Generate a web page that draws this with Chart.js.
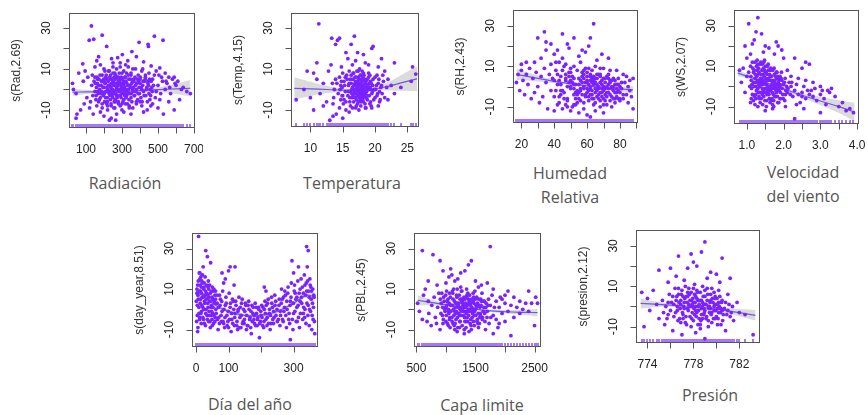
<!DOCTYPE html>
<html>
<head>
<meta charset="utf-8">
<script src="https://cdn.jsdelivr.net/npm/chart.js@4.4.1/dist/chart.umd.min.js"></script>
<style>
  body { margin: 0; background: #fff; }
  #wrap { position: relative; width: 868px; height: 415px; overflow: hidden; }
  canvas { position: absolute; }
  .ttl { position: absolute; transform: translate(-50%, -50%); font-family: "Open Sans", sans-serif;
         font-size: 16px; color: #555; text-align: center; line-height: 24px; white-space: nowrap; }
</style>
</head>
<body>
<div id="wrap">
  <div class="ttl" style="left:125px; top:183px">Radiación</div>
  <div class="ttl" style="left:352px; top:183px">Temperatura</div>
  <div class="ttl" style="left:570px; top:185px">Humedad<br>Relativa</div>
  <div class="ttl" style="left:803px; top:184px">Velocidad<br>del viento</div>
  <div class="ttl" style="left:250px; top:404px">Día del año</div>
  <div class="ttl" style="left:482px; top:405px">Capa limite</div>
  <div class="ttl" style="left:710px; top:395px">Presión</div>
</div>
<script>
// partial residuals, [x, y]; *Core = the dense middle of each cloud
const radPts = [[130,31],[118,24],[143,24.5],[190,26.5],[480,26],[528,24],[395,23],[445,22],[447,21],[215,21],[355,18.5],[302,17],[170,16],[242,15],[332,14],[276,15.5],[420,13.5],[82,12.5],[462,11.5],[510,10.5],[380,16],[250,13],[160,14],[290,13],[85,4],[60,8],[95,9],[45,-2],[30,0],[25,3],
  [110,6],[150,11],[180,12],[200,10],[225,9],[250,11],[265,7],[290,11],[310,9],[335,11],[350,8],[375,10],[390,7],[410,9],[430,6],[450,8],[470,5],[490,9],[505,7],[520,6],[540,8],[560,6],[580,5],[135,7],[165,5],[210,6],[235,5],[280,6],[320,6],[365,5],[400,5],[445,4],[190,7],[260,8],[300,8],[350,7],[430,7],[150,6],[230,9],[270,10],[320,12],[360,10],[415,10],[480,7],[525,4],[545,4],[595,3],
  [132,2],[138,-3],[145,4],[150,-1],[155,-5],[158,1],[163,3],[168,-2],[172,5],[176,0],[180,-4],[184,2],[188,-1],[192,4],[196,-3],[200,1],[203,-6],[207,3],[210,-1],[214,5],[218,-4],[221,0],[225,2],[228,-2],[232,6],[235,-5],[238,1],[241,3],[244,-3],[248,0],[251,4],[254,-1],[257,-6],[260,2],[263,5],[266,-2],[270,1],[273,-4],[276,3],[280,0],[283,-1],[286,4],[290,-3],[293,2],[296,6],[300,-2],[303,0],[307,3],[310,-5],[314,1],[318,-1],[322,4],[326,-3],[330,2],[334,0],[338,5],[342,-2],[346,1],[350,-4],[354,3],[358,0],[362,-1],[366,4],[370,-3],[375,2],[380,0],[385,5],[390,-2],[395,1],[400,3],[405,-4],[410,0],[415,2],[420,-1],[426,4],[432,-3],[438,1],[444,3],[450,-2],[456,0],[462,4],[468,-1],[475,2],
  [50,-12],[70,-10],[45,-14],[90,-7],[120,-9],[140,-12],[160,-8],[180,-11],[200,-13],[220,-10],[240,-14],[255,-9],[270,-12],[290,-8],[310,-11],[330,-7],[360,-9],[380,-6],[410,-8],[440,-10],[470,-7],[500,-9],[530,-12],[560,-6],[590,-10],[620,-5],[320,-7],[240,-8],[280,-6],[215,-7],[380,-7],[170,-6],[105,-4],[125,-6],[230,-15],[265,-15],[350,-12],[420,-11],[455,-5],[485,-4],[515,-2],[190,-9],[300,-10],[340,-8],[400,-6],[460,-8],
  [600,2],[630,0],[660,-1],[680,-2],[550,3],[570,-2],[610,4],[640,1],[590,6],[500,2],[510,-5],[540,0],[565,1],[490,-1]];
const radCore = [[152,3],[156,-3],[161,6],[165,-1],[170,2],[174,-5],[178,7],[182,-2],[186,4],[190,-7],[194,1],[198,5],[202,-2],[205,3],[209,-4],[212,7],[216,1],[219,-6],[223,4],[226,-1],[230,2],[233,-3],[236,7],[239,-7],[242,0],[246,5],[249,-4],[252,2],[256,6],[259,-2],[262,-5],[265,3],[268,0],[271,6],[275,-3],[278,2],[281,-7],[284,5],[288,-1],[291,3],[295,-4],[298,1],[301,5],[305,-6],[308,2],[312,-2],[315,6],[319,0],[323,-4],[327,3],[331,-1],[335,7],[339,-5],[343,2],[347,5],[351,-2],[355,-6],[359,4],[363,1],[368,-3],[372,6],[377,-1],[382,3],[387,-5],[392,4],[397,-2],[402,6],[407,1],[412,-6],[417,4],[423,-3],[429,5],[435,0],[441,-6],[447,2],[453,5],[459,-3],[465,1],[220,-8],[260,-9],[300,-7],[340,-9],[250,8],[285,8],[325,8],[205,9],[270,-3],[245,3],[310,4],[290,0],[230,-1],[355,1],[200,4],[330,-2],[265,-6],[240,-2],[280,4],[315,-3]];

const tempPts = [[11.3,32],[13.3,25],[14.2,24],[14.5,25],[16.8,26],[16.3,22],[13.9,22],[19.5,20],[19.7,21],[15.5,18],[17.3,18],[18.2,17],[21,15],[23,13],[25.8,11],[26.3,7.5],[25.6,4],[7.8,-5],[9.5,9],[10,-4],[10.5,-10],[11,5],[12,-8],[13,-15],[13.5,-13],[14,-12],[15,-14],[16,-11],[22,-5],[22.5,2],[23,-2],[24,1],[9,0],[10.5,8],[11.5,-2],[12,3],[12.5,-6],[11,13],[12.8,9],[13.2,12],[15.8,15],[17,14],[18.5,13],[16.5,12],[20.5,11],[21.5,9],[14.8,11],[19,12],
  [14.1,3],[14.3,-2],[14.5,6],[14.7,-5],[14.9,1],[15.1,-7],[15.2,4],[15.4,-1],[15.6,7],[15.8,-3],[15.9,2],[16.1,-6],[16.2,5],[16.4,0],[16.5,-4],[16.7,8],[16.8,2],[16.9,-2],[17.0,4],[17.1,-8],[17.2,1],[17.3,-3],[17.4,6],[17.5,-1],[17.6,3],[17.7,-5],[17.8,0],[17.9,5],[18.0,-2],[18.1,2],[18.2,-6],[18.3,7],[18.4,-1],[18.5,3],[18.6,-4],[18.7,1],[18.8,5],[18.9,-3],[19.0,0],[19.2,-7],[19.3,4],[19.5,-2],[19.6,2],[19.8,-5],[20.0,6],[20.1,0],[20.3,-3],[20.5,3],[20.7,-6],[20.9,1],[21.1,-2],[21.3,4],[17.2,9],[17.6,10],[18.0,9],[16.0,9],[15.0,8],[19.0,8],[17.5,-10],[18.5,-9],[16.5,-9],[15.5,-10],[19.5,-9],[20.5,-8],[14.5,-9],[13.5,-7],[13.7,0],[13.9,5],[13.4,3],[13.6,-4],[21.5,-4],[21.8,1],[22.0,5],[21.2,7],[17.7,2],[17.3,0],[17.9,-2],[18.2,1],[16.8,-1],[17.1,3],[16.6,-3],[18.6,0],[17.4,-6],[18.1,-4],[16.3,3],[19.1,3],[17.8,7],[16.9,6],[17.6,-2],[18.3,-3],[16.2,-1],[19.4,0],[17.0,-4],[18.8,2]];
const tempCore = [[14.6,0],[14.8,4],[15.0,-3],[15.3,2],[15.5,-6],[15.7,5],[15.9,-1],[16.0,3],[16.1,-4],[16.3,7],[16.4,-2],[16.5,1],[16.6,5],[16.7,-6],[16.8,0],[16.9,3],[17.0,-2],[17.05,6],[17.1,-5],[17.15,2],[17.2,-1],[17.25,4],[17.3,-7],[17.35,1],[17.4,3],[17.45,-3],[17.5,5],[17.55,0],[17.6,-4],[17.65,2],[17.7,7],[17.75,-1],[17.8,3],[17.85,-6],[17.9,1],[17.95,-2],[18.0,4],[18.05,0],[18.1,-5],[18.15,6],[18.2,-1],[18.25,2],[18.3,-3],[18.35,5],[18.4,1],[18.45,-7],[18.5,-2],[18.6,4],[18.7,-1],[18.8,-5],[18.9,2],[19.0,6],[19.1,-3],[19.2,1],[19.3,-6],[19.4,3],[19.6,-1],[19.7,5],[19.9,0],[20.0,-4],[20.2,2],[20.4,-2],[20.6,5],[20.8,-5],[21.0,2],[16.2,-8],[17.0,-9],[17.8,-8],[18.6,-9],[19.4,-8],[16.6,8],[17.4,9],[18.2,8],[19.2,7],[15.4,6],[15.2,-5],[14.7,2],[14.9,-3],[20.3,7],[20.7,-1],[17.55,-3],[17.15,-1],[18.45,3],[16.75,2],[18.0,-3],[17.3,4]];

const rhPts = [[64,31],[30,24],[34,27],[45,26],[52,24],[62,24],[38,21],[42,18],[35,22],[57,18],[59,17],[48,21],[61,20],[69,16],[73,14],[49,19],[43,12],[23,12],[20,11],[40,16],[35,18],[55,15],[66,13],[32,14],[28,12],[45,14],
  [17,2],[18,6],[19,-2],[20,8],[21,3],[22,-4],[23,6],[24,1],[25,9],[26,-6],[27,4],[28,-3],[29,7],[30,0],[31,-8],[32,5],[33,-5],[34,9],[35,2],[36,-11],[37,6],[38,-2],
  [39,4],[40,-5],[41,8],[42,1],[43,-8],[44,5],[45,-2],[46,10],[47,3],[48,-6],[49,7],[50,0],[51,-10],[52,4],[53,-3],[54,8],[55,1],[56,-7],[57,5],[58,-1],[59,9],[60,2],[61,-5],[62,6],[63,-2],[64,3],[65,-8],[66,1],[67,-4],[68,5],[69,-1],[70,-6],[71,2],[72,-3],[73,4],[74,-7],[75,0],[76,-2],[77,3],[78,-5],[79,1],[80,-3],[81,-1],[82,-6],[83,2],[84,-4],[85,0],[86,-2],[87,-5],[88,-11],
  [44,-4],[47,6],[50,3],[53,-6],[55,-3],[57,2],[59,-4],[60,7],[62,-1],[63,4],[64,-6],[65,2],[66,-2],[67,6],[68,-7],[69,3],[70,0],[71,-4],[72,5],[73,-1],[74,2],[75,-5],[76,4],[77,-3],[78,1],[79,-6],[60,-3],[58,4],[56,-1],[54,-4],[52,1],[61,1],[63,-4],[65,-1],[67,0],[69,-3],[71,-1],[73,1],[62,3],[66,4],
  [40,-12],[45,-11],[50,-12],[55,-13],[60,-14],[62,-15],[65,-12],[70,-13],[75,-10],[80,-6],[85,-8],[48,-10],[58,-11],[68,-10],[72,-9],[77,-8],[52,-9],[42,-9],
  [38,11],[41,12],[47,11],[52,10],[56,12],[61,9],[65,10],[70,9],[74,8],[78,8],[82,6],[84,5],[86,3],[88,4],[50,9],[58,8],[63,8],[68,9]];
const rhCore = [[40,3],[41,-2],[42,6],[43,-5],[44,1],[45,8],[46,-3],[47,4],[48,-7],[49,2],[50,-1],[51,5],[52,-4],[53,1],[54,-8],[55,4],[56,-2],[57,7],[58,0],[59,-5],[60,3],[61,-2],[62,5],[63,-6],[64,1],[65,-3],[66,6],[67,-1],[68,2],[69,-5],[70,4],[71,-7],[72,0],[73,-3],[74,3],[75,-1],[76,-6],[77,1],[78,-3],[79,4],[80,-7],[81,2],[82,-4],[43,3],[46,-6],[49,5],[52,-1],[55,-6],[58,6],[61,-7],[64,5],[67,-6],[70,-2],[73,6],[76,0],[79,-2],[48,0],[51,2],[54,-2],[57,-4],[60,-1],[63,2],[66,-5],[69,1],[72,-5],[75,3],[78,-1],[44,-2],[47,-9],[50,7],[53,-9],[56,3],[59,2],[62,-4],[65,4],[68,-3],[71,4],[74,-4],[77,-6],[80,0],[58,-8],[64,-9],[70,-9],[62,0],[66,-1],[68,6],[60,5]];

const wsPts = [[1.3,34],[1.05,31],[1.25,27],[1.4,26],[1.2,23],[1.8,22],[1.85,20],[1.5,20],[1.6,19],[1.95,18],[1.1,16],[1.75,16],[2.0,14],[2.3,14],[2.6,12],[2.7,11],[2.5,9],[0.95,20],[1.15,21],[1.45,17],[1.0,14],[0.9,9],[0.85,2],[0.8,8],[0.95,-3],[1.0,5],
  [1.1,10],[1.12,3],[1.15,-4],[1.18,7],[1.2,0],[1.22,12],[1.25,-6],[1.27,5],[1.3,-1],[1.32,9],[1.34,2],[1.36,-8],[1.38,6],[1.4,-3],[1.42,11],[1.44,1],[1.46,-5],[1.48,8],[1.5,-1],[1.52,4],[1.54,-7],[1.56,10],[1.58,0],[1.6,-4],[1.62,6],[1.64,-2],[1.66,3],[1.68,-6],[1.7,8],[1.72,-1],[1.74,2],[1.76,-5],[1.78,5],[1.8,-3],[1.82,1],[1.84,-8],[1.86,4],[1.88,-2],[1.9,0],[1.92,-6],[1.95,3],[1.98,-4],[2.0,1],[2.03,-7],[2.06,-2],[1.15,12],[1.2,8],[1.25,2],[1.3,6],[1.35,-3],[1.4,4],[1.45,9],[1.5,7],[1.55,-4],[1.6,3],[1.65,9],[1.7,-9],[1.75,0],[1.8,7],[1.85,-1],[1.9,5],[1.28,13],[1.38,12],[1.48,13],[1.58,11],[1.33,-5],[1.43,-9],[1.53,-10],[1.63,-8],[1.73,-10],[1.22,-9],[1.12,-6],[1.08,0],[1.05,7],[1.46,3],[1.36,1],[1.56,-2],[1.66,-1],[1.42,-1],[1.52,1],
  [2.1,-3],[2.15,2],[2.2,0],[2.25,-5],[2.3,-2],[2.35,1],[2.4,-4],[2.45,-8],[2.5,-3],[2.55,0],[2.6,-6],[2.65,-2],[2.7,-4],[2.8,-5],[2.85,-1],[2.9,-7],[3.0,-4],[3.05,-2],[3.1,-6],[3.2,-2],[3.3,-1],[3.15,-9],[3.5,-10],[3.8,-11],[3.9,-13],[3.7,-12],[2.5,-5],[2.75,-2],[3.0,-13],[2.3,-16],[1.5,-12],[1.7,-11],[1.3,-10],[1.1,-8],[2.2,5],[2.4,4],[2.6,3],[2.8,2],[3.0,0],[3.25,-3],[2.1,8],[2.05,-10],[2.35,-9],[2.55,-11],[3.6,-8],[3.4,-5]];
const wsCore = [[1.11,5],[1.13,-1],[1.16,9],[1.19,2],[1.21,-5],[1.23,6],[1.24,0],[1.26,10],[1.29,3],[1.31,-3],[1.33,7],[1.35,0],[1.37,4],[1.39,-6],[1.41,8],[1.43,2],[1.45,-2],[1.47,5],[1.49,-7],[1.51,10],[1.53,1],[1.55,6],[1.57,-3],[1.59,4],[1.61,-6],[1.63,8],[1.65,0],[1.67,5],[1.69,-3],[1.71,3],[1.73,-7],[1.75,6],[1.77,1],[1.79,-2],[1.81,4],[1.83,-5],[1.85,2],[1.87,-8],[1.89,1],[1.91,-3],[1.93,4],[1.96,-1],[1.99,-6],[2.02,2],[2.05,-4],[2.08,0],[1.14,1],[1.18,-7],[1.22,4],[1.26,-2],[1.3,11],[1.34,-6],[1.38,3],[1.42,-4],[1.46,12],[1.5,2],[1.54,-1],[1.58,8],[1.62,-1],[1.66,-7],[1.7,2],[1.74,9],[1.78,-5],[1.82,7],[1.86,-2],[1.9,-6],[1.94,7],[1.98,1],[2.04,4],[1.24,-4],[1.28,8],[1.32,1],[1.36,11],[1.4,1],[1.44,6],[1.48,-3],[1.52,7],[1.56,3],[1.6,0],[1.64,5],[1.68,1],[1.72,-4],[1.76,3],[1.8,-1],[1.84,5],[1.88,3],[2.12,-1],[2.18,-4],[2.22,2]];

const dayPts = [[8,36],[30,29],[35,26],[45,23],[22,21],[10,18],[15,16],[18,14],[25,13],[5,12],[12,15],[20,17],[28,16],[38,14],[42,12],[50,11],[55,10],[60,9],[3,8],[7,5],[14,9],[19,6],[24,10],[33,8],[40,6],[47,9],[52,5],[58,7],[4,2],[9,-2],[13,3],[17,-1],[21,1],[26,4],[31,0],[36,3],[41,-3],[46,1],[51,-2],[56,4],[61,0],[2,-6],[6,-9],[11,-4],[16,-7],[23,-5],[29,-8],[34,-3],[39,-6],[44,-9],[49,-5],[54,-7],[59,-4],[5,-11],[12,18],[16,11],[27,7],[37,11],[43,4],[48,-1],
  [65,3],[70,-4],[75,5],[80,-1],[85,-7],[90,2],[95,-3],[100,-9],[105,1],[110,-5],[115,4],[120,-2],[125,-8],[130,0],[135,-4],[140,3],[145,-6],[150,-1],[155,-10],[160,2],[165,-5],[170,-12],[175,-2],[180,-7],[185,1],[190,-4],[195,-14],[200,-3],[205,-8],[210,0],[215,-5],[220,3],[225,-2],[230,-7],[235,1],[240,-4],[245,4],[250,-6],[68,-10],[78,-6],[88,-9],[98,-6],[108,-11],[118,-8],[128,-10],[138,-9],[148,-7],[158,-8],[168,-9],[178,-5],[188,-8],[198,-6],[208,-9],[218,-8],[228,-10],[238,-7],[72,7],[82,9],[92,6],[102,8],[112,5],[122,4],[132,6],[142,5],[152,3],[162,4],[172,2],[182,3],[192,1],[202,2],[212,4],[222,5],[232,6],[242,7],[80,18],[100,19],[105,21],[120,21],[117,12],[90,15],[85,13],[210,11],[215,9],
  [255,2],[260,-3],[265,5],[270,-1],[275,7],[280,0],[285,-5],[290,4],[295,24],[300,-2],[305,8],[310,1],[315,-4],[320,10],[325,3],[330,-2],[335,12],[340,31],[342,21],[345,29],[348,6],[350,15],[352,-1],[355,9],[358,3],[360,-5],[362,7],[365,-12],[290,-15],[258,-8],[268,-6],[278,-9],[288,-7],[298,-10],[308,-6],[318,-9],[328,-5],[338,-7],[348,-8],[263,10],[273,9],[283,11],[293,13],[303,12],[313,14],[323,15],[333,17],[343,14],[353,11],[310,6],[320,4],[330,8],[340,9],[345,2],[335,0],[300,18],[315,21],[356,-10]];
const dayCore = [[1,4],[3,10],[4,-3],[6,7],[7,14],[9,1],[10,9],[11,-5],[13,12],[14,5],[15,-2],[17,8],[18,2],[19,13],[21,-4],[22,6],[24,0],[25,11],[26,-7],[27,3],[29,9],[30,-2],[32,5],[33,12],[35,-5],[36,7],[37,1],[39,10],[40,-1],[42,4],[43,-6],[44,8],[46,-3],[47,2],[49,6],[50,-8],[52,1],[53,9],[55,-3],[57,3],[58,-6],[60,5],[62,-2],[64,7],
  [66,-5],[69,1],[72,-7],[74,2],[77,-3],[79,4],[83,-6],[86,0],[89,-4],[93,3],[96,-8],[99,-1],[103,-5],[106,3],[109,-2],[113,-7],[116,0],[119,-4],[123,2],[126,-6],[129,-1],[133,-9],[136,1],[139,-3],[143,-7],[146,0],[149,-5],[153,2],[156,-3],[159,-8],[163,0],[166,-4],[169,-1],[173,-6],[176,1],[179,-3],[183,-8],[186,-2],[189,-5],[193,0],[196,-7],[199,-1],[203,-4],[206,1],[209,-6],[213,-2],[216,2],[219,-4],[223,-7],[226,0],[229,-3],[233,3],[236,-5],[239,-1],[243,2],[246,-3],[249,0],[253,-5],
  [256,5],[259,-1],[262,3],[266,-5],[269,6],[272,1],[276,-3],[279,4],[282,8],[286,-2],[289,2],[292,6],[296,-5],[299,3],[302,9],[304,-1],[307,5],[311,-6],[314,2],[317,8],[321,-2],[324,6],[327,11],[331,1],[334,-4],[337,7],[339,13],[341,3],[344,-3],[346,9],[349,0],[351,12],[354,5],[357,-3],[359,10],[361,1],[363,6],[364,-6]];

const pblPts = [[1750,31],[600,29],[780,27],[900,24],[1430,24],[1380,22],[1080,20],[1100,17],[1250,18],[1050,16],[1500,14],[1200,15],[1700,13],[2050,9],[2400,9],[950,19],[1320,19],[1150,14],[1000,13],[850,12],[700,14],[1600,12],[1550,11],[1800,10],
  [520,3],[550,-1],[600,-5],[650,10],[700,4],[750,-8],[710,-2],[800,6],[820,-4],[860,1],[880,8],[900,-10],[620,7],[680,-6],[760,2],[840,-7],
  [920,3],[940,-3],[960,6],[980,0],[1000,-6],[1020,4],[1040,-1],[1060,8],[1080,2],[1100,-4],[1120,5],[1140,-8],[1160,1],[1180,7],[1200,-2],[1220,3],[1240,-6],[1260,9],[1280,0],[1300,-3],[1320,5],[1340,-9],[1360,2],[1380,-1],[1400,7],[1420,-5],[1440,1],[1460,4],[1480,-3],[1500,0],[1520,6],[1540,-7],[1560,2],[1580,-2],[1600,4],[1620,-4],[1640,1],[1660,-6],[1680,3],[1700,-1],[950,-7],[1010,9],[1070,-9],[1130,10],[1190,-11],[1250,11],[1310,-12],[1370,8],[1430,-10],[1490,9],[1550,-9],[1610,8],[1670,-10],[1730,-7],[1000,1],[1050,-2],[1150,-1],[1210,1],[1270,4],[1330,-1],[1390,3],[1450,-2],[1510,2],[1570,-4],[1630,-1],[1110,2],[1170,-5],[1230,-3],[1290,2],[1350,6],[1410,-7],[1470,6],[1530,-5],[1590,5],[1650,4],[1060,-5],[1240,0],[1300,1],[1360,-4],[1420,3],[1120,-7],[1480,-8],[1200,-9],[1340,-6],[1380,5],
  [1750,2],[1800,-3],[1850,4],[1900,1],[1950,-2],[2000,3],[2050,-1],[2100,2],[2150,6],[2200,1],[2250,-2],[2300,0],[2350,3],[2450,3],[2550,3],[2500,-8],[2100,-13],[1800,-12],[1900,-7],[2000,-6],[1780,7],[1850,-5],[1950,5],[2000,7],[2150,-4],[2250,4],[2400,-1],[2520,6],[1720,5],[1760,-4],[1820,1],[1880,-9],[1920,6]];
const pblCore = [[905,5],[915,-2],[930,8],[945,1],[955,-5],[970,4],[985,-1],[995,7],[1005,-3],[1015,2],[1025,-7],[1035,5],[1045,0],[1055,3],[1065,-4],[1075,6],[1085,-1],[1095,2],[1105,-6],[1115,8],[1125,0],[1135,-3],[1145,4],[1155,-7],[1165,3],[1175,-1],[1185,6],[1195,-4],[1205,2],[1215,-2],[1225,7],[1235,-6],[1245,1],[1255,-3],[1265,5],[1275,-8],[1285,3],[1295,-1],[1305,6],[1315,-4],[1325,1],[1335,3],[1345,-2],[1355,7],[1365,-6],[1375,0],[1385,-3],[1395,4],[1405,-1],[1415,2],[1425,-8],[1435,5],[1445,-4],[1455,0],[1465,-6],[1475,3],[1485,-1],[1495,5],[1505,-3],[1515,1],[1525,-6],[1535,3],[1545,-2],[1555,5],[1565,-7],[1575,1],[1585,-3],[1595,2],[1615,-5],[1635,4],[1655,-2],[1675,1],[1695,-4],[1715,2],[1110,9],[1190,10],[1270,9],[1350,10],[1150,-10],[1230,-9],[1310,-10],[1390,-11],[1460,8],[1040,-8],[1190,3],[1260,-1],[1320,-6],[1400,0],[1280,4],[1160,-2],[1240,5],[1340,2],[1440,-1]];

const presPts = [[779,32],[777.8,26],[778.7,27],[776.7,25],[780.5,24],[778,22],[777.5,19],[778.3,20],[776,19],[775,18],[779.5,17],[780,16],[781.2,14],[773.5,7],[774,4],[773.7,-10],[775,-6],[775.5,-9],[774.8,1],[783.2,-14],[781.5,-7],[782,-3],[780.8,-12],[778.2,-13],[777,-14],[779,-16],[776.5,15],[777.2,13],[779.2,14],[780.3,12],[775.8,12],[774.5,8],[782.5,-4],[781.8,2],[781,6],[774.2,-2],[775.3,3],[775.8,-4],[776.2,-12],
  [776.5,3],[776.6,-2],[776.7,6],[776.8,-6],[776.9,1],[777.0,8],[777.1,-4],[777.2,2],[777.3,-8],[777.4,5],[777.5,-1],[777.6,9],[777.7,-5],[777.8,3],[777.9,0],[778.0,-7],[778.1,6],[778.2,-2],[778.3,4],[778.4,-9],[778.5,1],[778.6,7],[778.7,-4],[778.8,2],[778.9,-1],[779.0,5],[779.1,-6],[779.2,3],[779.3,0],[779.4,-3],[779.5,6],[779.6,-8],[779.7,2],[779.8,-2],[779.9,4],[780.0,-5],[780.1,1],[780.2,-3],[780.3,5],[780.4,-1],[780.6,-4],[780.8,2],[781.0,-2],[781.2,-5],[781.4,0],[776.3,-5],[776.1,2],[775.9,6],[775.6,0],[775.4,-3],[777.3,10],[778.1,11],[778.8,10],[779.6,9],[777.8,-10],[778.6,-11],[779.3,-10],[780.1,-9],[777.6,1],[778.2,0],[778.7,-1],[779.1,1],[778.4,3],[777.9,-3],[779.5,-1],[778.9,-4],[778.0,2],[779.8,0],[777.1,5],[780.5,3],[776.9,-8],[778.5,-6],[779.9,-6],[777.5,7],[779.0,8],[780.2,8],[776.4,9],[778.3,8]];
const presCore = [[776.3,1],[776.45,-3],[776.55,5],[776.65,-7],[776.75,2],[776.85,-1],[776.95,6],[777.05,-3],[777.15,0],[777.25,4],[777.35,-5],[777.45,2],[777.55,-2],[777.65,6],[777.75,0],[777.85,-6],[777.95,4],[778.05,-1],[778.15,2],[778.25,-5],[778.35,7],[778.45,-2],[778.55,3],[778.65,-7],[778.75,0],[778.85,5],[778.95,-3],[779.05,1],[779.15,-5],[779.25,6],[779.35,-1],[779.45,2],[779.55,-4],[779.65,4],[779.75,-6],[779.85,1],[779.95,-2],[780.05,4],[780.15,-6],[780.25,0],[780.35,-3],[780.45,2],[780.55,-7],[780.7,-1],[780.9,-4],[781.1,1],[781.3,-3],[776.2,5],[776.0,-2],[775.8,2],[775.7,-6],[776.7,9],[777.4,-9],[778.0,9],[778.6,-9],[779.2,9],[779.8,7],[780.4,-9],[777.1,-6],[777.7,3],[778.3,-3],[778.9,1],[779.5,3],[780.1,-1],[776.9,3],[777.5,5],[778.1,-4],[778.7,3],[779.3,-7],[779.9,5],[780.5,-2],[777.2,-1],[777.8,7],[778.4,0],[779.0,-2],[779.6,-3],[780.2,2],[776.6,0],[778.8,-6],[778.2,5],[777.9,1],[779.4,0],[780.0,1]];

// smooth fits: x, fitted value, half-width of the shaded band
const radFitX = [25, 100, 200, 300, 400, 500, 600, 680];
const radFitY = [-1.3, -1.2, -1.1, -1.0, -0.6, -0.1, 0.3, 0.6];
const radFitSe = [1.8, 1.0, 0.6, 0.6, 0.8, 1.3, 2.5, 4.0];

const tempFitX = [7.5, 10, 12.5, 15, 17.5, 20, 22, 24, 26.5];
const tempFitY = [0.5, 0.3, 0.0, -0.3, -0.2, 0.3, 1.5, 3.2, 5.2];
const tempFitSe = [5.5, 3.5, 1.8, 0.8, 0.6, 0.9, 2.0, 3.8, 6.0];

const rhFitX = [17, 30, 40, 50, 60, 70, 80, 88];
const rhFitY = [6.0, 4.0, 2.6, 1.4, 0.3, -0.6, -1.2, -1.6];
const rhFitSe = [2.8, 1.5, 0.9, 0.6, 0.6, 0.8, 1.2, 1.8];

const wsFitX = [0.75, 1.0, 1.5, 2.0, 2.5, 3.0, 3.5, 3.93];
const wsFitY = [6.6, 5.1, 2.0, -1.2, -4.4, -7.2, -10.0, -12.7];
const wsFitSe = [1.6, 1.1, 0.6, 0.7, 1.2, 2.0, 3.2, 4.6];

const dayFitX = [0, 30, 60, 100, 150, 200, 250, 300, 340, 365];
const dayFitY = [9, 6, 2, -1, -3, -3, -1, 3, 7, 6];
const dayFitSe = [2.5, 1.2, 1.0, 0.9, 0.9, 0.9, 0.9, 1.0, 1.3, 2.5];

const pblFitX = [520, 800, 1100, 1400, 1700, 2000, 2300, 2550];
const pblFitY = [4.5, 3.2, 1.8, 0.5, -0.6, -1.2, -1.5, -1.6];
const pblFitSe = [2.5, 1.3, 0.7, 0.5, 0.6, 0.9, 1.3, 1.8];

const presFitX = [773.4, 775, 777, 779, 781, 783.4];
const presFitY = [1.5, 1.0, 0.3, -0.7, -2.2, -4.4];
const presFitSe = [2.5, 1.2, 0.6, 0.6, 1.3, 2.6];

// axis ticks (all ticks, then the ones that get a label)
const yTicks = [-10, 0, 10, 20, 30];
const yLabels = [-10, 10, 30];
const radTicks = [100, 200, 300, 400, 500, 600, 700], radLabels = [100, 300, 500, 700];
const tempTicks = [10, 15, 20, 25], tempLabels = [10, 15, 20, 25];
const rhTicks = [20, 30, 40, 50, 60, 70, 80, 90], rhLabels = [20, 40, 60, 80];
const wsTicks = [1.0, 1.5, 2.0, 2.5, 3.0, 3.5, 4.0], wsLabels = [1.0, 2.0, 3.0, 4.0];
const dayTicks = [0, 100, 200, 300], dayLabels = [0, 100, 300];
const pblTicks = [500, 1000, 1500, 2000, 2500], pblLabels = [500, 1500, 2500];
const presTicks = [774, 776, 778, 780, 782], presLabels = [774, 778, 782];

const panels = [
  { box: [69, 13, 195, 128], yTitle: "s(Rad,2.69)", pts: radPts.concat(radCore), fx: radFitX, fy: radFitY, se: radFitSe, xr: [5.6, 705.6], yr: [-18.8, 37.3], ticks: radTicks, labels: radLabels, dec: 0 },
  { box: [291, 13, 419, 127], yTitle: "s(Temp,4.15)", pts: tempPts.concat(tempCore), fx: tempFitX, fy: tempFitY, se: tempFitSe, xr: [7.0, 26.8], yr: [-18.3, 37.3], ticks: tempTicks, labels: tempLabels, dec: 0 },
  { box: [513, 10, 638, 123], yTitle: "s(RH,2.43)", pts: rhPts.concat(rhCore), fx: rhFitX, fy: rhFitY, se: rhFitSe, xr: [14.9, 91], yr: [-18.0, 37.8], ticks: rhTicks, labels: rhLabels, dec: 0 },
  { box: [734, 10, 859, 124], yTitle: "s(WS,2.07)", pts: wsPts.concat(wsCore), fx: wsFitX, fy: wsFitY, se: wsFitSe, xr: [0.65, 4.05], yr: [-18.6, 37.8], ticks: wsTicks, labels: wsLabels, dec: 1 },
  { box: [192, 233, 318, 347], yTitle: "s(day_year,8.51)", pts: dayPts.concat(dayCore), fx: dayFitX, fy: dayFitY, se: dayFitSe, xr: [-12.3, 375], yr: [-18.6, 37.7], ticks: dayTicks, labels: dayLabels, dec: 0 },
  { box: [414, 233, 541, 347], yTitle: "s(PBL,2.45)", pts: pblPts.concat(pblCore), fx: pblFitX, fy: pblFitY, se: pblFitSe, xr: [459, 2609], yr: [-18.6, 37.7], ticks: pblTicks, labels: pblLabels, dec: 0 },
  { box: [636, 230, 760, 343], yTitle: "s(presion,2.12)", pts: presPts.concat(presCore), fx: presFitX, fy: presFitY, se: presFitSe, xr: [773.0, 783.8], yr: [-18.1, 37.9], ticks: presTicks, labels: presLabels, dec: 0 }
];

const PAD = { left: 62, top: 6, right: 8, bottom: 34 };
const tickFont = '12px "Liberation Sans", Arial, sans-serif';

// R-style box, axes, rug
const rStyle = {
  id: "rStyle",
  afterDatasetsDraw(chart, args, opts) {
    const p = opts.panel;
    if (!p) return;
    const ctx = chart.ctx, a = chart.chartArea, x = chart.scales.x, y = chart.scales.y;
    ctx.save();
    // rug
    ctx.beginPath();
    ctx.strokeStyle = "rgba(120,45,255,0.65)";
    ctx.lineWidth = 2;
    p.pts.forEach(pt => {
      const px = Math.round(x.getPixelForValue(pt[0]));
      ctx.moveTo(px, a.bottom);
      ctx.lineTo(px, a.bottom - 4);
    });
    ctx.stroke();
    ctx.lineWidth = 1;
    // box
    ctx.strokeStyle = "#555";
    ctx.strokeRect(Math.round(a.left) + 0.5, Math.round(a.top) + 0.5, Math.round(a.width) - 1, Math.round(a.height) - 1);
    // x axis
    const by = Math.round(a.bottom) - 0.5;
    ctx.beginPath();
    ctx.moveTo(x.getPixelForValue(p.ticks[0]), by);
    ctx.lineTo(x.getPixelForValue(p.ticks[p.ticks.length - 1]), by);
    p.ticks.forEach(t => {
      const px = Math.round(x.getPixelForValue(t)) + 0.5;
      ctx.moveTo(px, by);
      ctx.lineTo(px, by + 6);
    });
    // y axis
    const lx = Math.round(a.left) + 0.5;
    ctx.moveTo(lx, y.getPixelForValue(yTicks[0]));
    ctx.lineTo(lx, y.getPixelForValue(yTicks[yTicks.length - 1]));
    yTicks.forEach(t => {
      const py = Math.round(y.getPixelForValue(t)) + 0.5;
      ctx.moveTo(lx, py);
      ctx.lineTo(lx - 6, py);
    });
    ctx.stroke();
    // labels
    ctx.fillStyle = "#222";
    ctx.font = tickFont;
    ctx.textAlign = "center";
    ctx.textBaseline = "middle";
    p.labels.forEach(t => ctx.fillText(t.toFixed(p.dec), x.getPixelForValue(t), a.bottom + 22));
    yLabels.forEach(t => {
      ctx.save();
      ctx.translate(a.left - 22, y.getPixelForValue(t));
      ctx.rotate(-Math.PI / 2);
      ctx.fillText(String(t), 0, 0);
      ctx.restore();
    });
    ctx.save();
    ctx.fillStyle = "#333";
    ctx.translate(a.left - 52, (a.top + a.bottom) / 2);
    ctx.rotate(-Math.PI / 2);
    ctx.fillText(p.yTitle, 0, 0);
    ctx.restore();
    ctx.restore();
  }
};

const wrap = document.getElementById("wrap");
panels.forEach(p => {
  const [l, t, r, b] = p.box;
  const cv = document.createElement("canvas");
  const w = r - l + PAD.left + PAD.right, h = b - t + PAD.top + PAD.bottom;
  cv.width = w; cv.height = h;
  cv.style.left = (l - PAD.left) + "px";
  cv.style.top = (t - PAD.top) + "px";
  cv.style.width = w + "px"; cv.style.height = h + "px";
  wrap.appendChild(cv);

  const fit = p.fx.map((v, i) => ({ x: v, y: p.fy[i] }));
  const hi = p.fx.map((v, i) => ({ x: v, y: p.fy[i] + p.se[i] }));
  const lo = p.fx.map((v, i) => ({ x: v, y: p.fy[i] - p.se[i] }));

  new Chart(cv, {
    type: "scatter",
    data: {
      datasets: [
        { data: p.pts, pointRadius: 1.9, pointBackgroundColor: "#7a22ff", pointBorderWidth: 0, order: 0 },
        { type: "line", data: fit, borderColor: "rgba(95,75,230,0.9)", borderWidth: 1.2, pointRadius: 0, tension: 0.4, fill: false, order: 1 },
        { type: "line", data: hi, borderWidth: 0, borderColor: "rgba(0,0,0,0)", pointRadius: 0, tension: 0.4, fill: "+1", backgroundColor: "rgba(190,190,190,0.55)", order: 2 },
        { type: "line", data: lo, borderWidth: 0, borderColor: "rgba(0,0,0,0)", pointRadius: 0, tension: 0.4, fill: false, order: 2 }
      ]
    },
    options: {
      responsive: false,
      animation: false,
      layout: { padding: PAD },
      plugins: { legend: { display: false }, tooltip: { enabled: false }, rStyle: { panel: p } },
      scales: {
        x: { type: "linear", min: p.xr[0], max: p.xr[1], display: false },
        y: { type: "linear", min: p.yr[0], max: p.yr[1], display: false }
      }
    },
    plugins: [rStyle]
  });
});
</script>
</body>
</html>
